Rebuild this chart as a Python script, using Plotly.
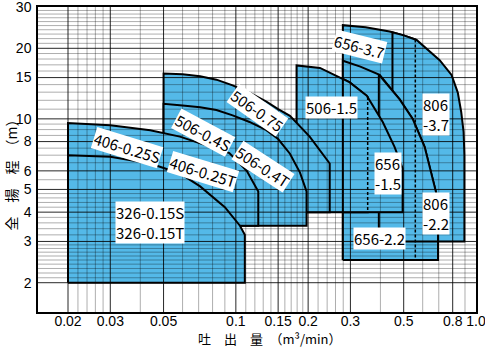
import math
import plotly.graph_objects as go

# ---------------- data: flow Q (m3/min) and head H (m) ----------------
q_326 = [0.02, 0.03, 0.044, 0.0585, 0.071, 0.09, 0.104, 0.109]
h_326 = [7.0, 6.9, 6.45, 5.85, 5.15, 4.2, 3.5, 3.2]
base_326 = 2.0

q_406 = [0.02, 0.03, 0.044, 0.0585, 0.078, 0.094, 0.111, 0.124]
h_406 = [9.6, 9.4, 8.95, 8.4, 7.6, 7.15, 6.0, 4.9]
base_406 = 3.5

q_506_04 = [0.05, 0.06, 0.071, 0.083, 0.097, 0.114, 0.134, 0.15, 0.168, 0.185, 0.197]
h_506_04 = [11.6, 11.4, 11.2, 10.9, 10.35, 9.7, 8.95, 8.2, 7.1, 5.9, 4.9]
base_506_04 = 3.5

q_506_075 = [0.05, 0.06, 0.071, 0.083, 0.097, 0.114, 0.134, 0.15, 0.168, 0.203, 0.246]
h_506_075 = [15.6, 15.5, 15.2, 14.7, 13.9, 12.95, 11.85, 11.0, 10.3, 8.4, 6.45]
base_506_075 = 4.0

q_506_15 = [0.179, 0.224, 0.253, 0.298, 0.354]
h_506_15 = [16.9, 16.5, 15.5, 14.3, 12.4]
base_506_15 = 4.0

q_656_15 = [0.279, 0.298, 0.351, 0.409, 0.458, 0.495]
h_656_15 = [14.8, 14.3, 12.55, 9.7, 7.6, 6.15]
base_656_15 = 4.0

q_656_22 = [0.279, 0.33, 0.397, 0.481, 0.545, 0.611, 0.684, 0.695]
h_656_22 = [17.7, 16.7, 15.4, 12.1, 10.0, 7.6, 4.8, 4.3]
base_656_22 = 2.5

q_806_22 = [0.394, 0.481, 0.545, 0.611, 0.684, 0.695]
h_806_22 = [15.45, 12.1, 10.0, 7.6, 4.8, 4.3]
base_806_22 = 3.0

q_656_37 = [0.279, 0.347, 0.437, 0.5, 0.559]
h_656_37 = [25.1, 24.6, 23.6, 22.7, 21.8]
base_656_37 = 2.5

q_806_37 = [0.449, 0.5, 0.566, 0.706, 0.791, 0.84, 0.868, 0.888, 0.895]
h_806_37 = [23.4, 22.7, 21.7, 17.8, 15.4, 12.95, 10.7, 8.8, 7.0]
base_806_37 = 3.0

x_ticks = [0.02, 0.03, 0.05, 0.1, 0.15, 0.2, 0.3, 0.5, 0.8, 1.0]
x_tick_text = ["0.02", "0.03", "0.05", "0.1", "0.15", "0.2", "0.3", "0.5", "0.8", "1.0"]
y_ticks = [2, 3, 4, 5, 6, 8, 10, 15, 20, 30]
y_tick_text = ["2", "3", "4", "5", "6", "8", "10", "15", "20", "30"]

x_major_grid = [0.02, 0.03, 0.05, 0.1, 0.15, 0.2, 0.3, 0.5, 0.8]
x_minor_grid = [0.022, 0.024, 0.026, 0.028, 0.04, 0.06, 0.07, 0.08, 0.09,
                0.11, 0.12, 0.13, 0.14, 0.16, 0.17, 0.18, 0.19,
                0.22, 0.24, 0.26, 0.28, 0.4, 0.6, 0.7, 0.9]
y_major_grid = [2, 3, 4, 5, 6, 8, 10, 15, 20]
y_minor_grid = [2.1, 2.2, 2.3, 2.4, 2.5, 2.6, 2.7, 2.8, 2.9,
                3.2, 3.4, 3.6, 3.8, 4.2, 4.4, 4.6, 4.8,
                5.5, 6.5, 7, 7.5, 8.5, 9, 9.5,
                11, 12, 13, 14, 16, 17, 18, 19,
                21, 22, 23, 24, 25, 26, 27, 28, 29]

X_RANGE = (0.015, 1.0)
Y_RANGE = (1.5, 30.0)

# draw order: back to front
models = [
    (q_656_37, h_656_37, base_656_37),
    (q_806_37, h_806_37, base_806_37),
    (q_656_22, h_656_22, base_656_22),
    (q_806_22, h_806_22, base_806_22),
    (q_506_15, h_506_15, base_506_15),
    (q_656_15, h_656_15, base_656_15),
    (q_506_075, h_506_075, base_506_075),
    (q_506_04, h_506_04, base_506_04),
    (q_406, h_406, base_406),
    (q_326, h_326, base_326),
]
hidden_edges = [(q_506_15, h_506_15, base_506_15), (q_656_37, h_656_37, base_656_37)]

FILL = "rgb(84,185,232)"

fig = go.Figure()
for q, h, b in models:
    xs = [q[0]] + list(q) + [q[-1], q[0]]
    ys = [b] + list(h) + [b, b]
    fig.add_trace(go.Scatter(x=xs, y=ys, mode="lines", fill="toself",
                             fillcolor=FILL, line=dict(color="black", width=2),
                             hoverinfo="skip", showlegend=False))

def vlines(vals):
    xs, ys = [], []
    for v in vals:
        xs += [v, v, None]
        ys += [Y_RANGE[0], Y_RANGE[1], None]
    return xs, ys

def hlines(vals):
    xs, ys = [], []
    for v in vals:
        xs += [X_RANGE[0], X_RANGE[1], None]
        ys += [v, v, None]
    return xs, ys

for vals, fn, col in [(x_minor_grid, vlines, "rgba(0,0,0,0.32)"),
                      (y_minor_grid, hlines, "rgba(0,0,0,0.32)"),
                      (x_major_grid, vlines, "rgba(0,0,0,0.85)"),
                      (y_major_grid, hlines, "rgba(0,0,0,0.85)")]:
    xs, ys = fn(vals)
    fig.add_trace(go.Scatter(x=xs, y=ys, mode="lines", line=dict(color=col, width=1),
                             hoverinfo="skip", showlegend=False))

for q, h, b in hidden_edges:
    fig.add_trace(go.Scatter(x=[q[-1], q[-1]], y=[h[-1], b], mode="lines",
                             line=dict(color="black", width=1.5, dash="3px,2px"),
                             hoverinfo="skip", showlegend=False))

labels = [
    ("406-0.25S", 0.0351, 7.53, 17, "center"),
    ("406-0.25T", 0.0729, 5.965, 17, "center"),
    ("506-0.4S", 0.0729, 8.71, 28, "center"),
    ("506-0.4T", 0.1295, 6.26, 33, "center"),
    ("506-0.75", 0.1234, 10.88, 35, "center"),
    ("656-3.7", 0.328, 20.43, 14, "center"),
    ("506-1.5", 0.2507, 11.2, 0, "center"),
    ("806<br>-3.7", 0.679, 10.47, 0, "left"),
    ("656<br>-1.5", 0.4287, 5.85, 0, "left"),
    ("806<br>-2.2", 0.679, 3.93, 0, "left"),
    ("656-2.2", 0.397, 3.085, 0, "center"),
    ("326-0.15S<br>326-0.15T", 0.0439, 3.60, 0, "left"),
]
LFONT = dict(family="Noto Sans CJK JP", size=15, color="black")
for text, q, h, ang, al in labels:
    fig.add_annotation(x=math.log10(q), y=math.log10(h), xref="x", yref="y",
                       text=text, showarrow=False, textangle=ang, align=al,
                       bgcolor="white", borderpad=0, font=LFONT)

fig.add_annotation(x=0.53, y=-0.087, xref="paper", yref="paper",
                   text="吐\u3000出\u3000量\u3000（m³/min）", showarrow=False,
                   font=dict(family="Noto Sans CJK JP", size=13, color="black"),
                   xanchor="center", yanchor="middle")
fig.add_annotation(x=-0.062, y=0.46, xref="paper", yref="paper",
                   text="全\u3000揚\u3000程\u3000（m）", showarrow=False, textangle=-90,
                   font=dict(family="Noto Sans CJK JP", size=14, color="black"),
                   xanchor="center", yanchor="middle")

axis_common = dict(type="log", showgrid=False, zeroline=False, showline=True,
                   mirror=True, linecolor="black", linewidth=1.5, ticks="",
                   ticklabeloverflow="allow",
                   tickfont=dict(family="Liberation Sans", size=14, color="black"))
EPS = 1e-4
fig.update_xaxes(range=[math.log10(X_RANGE[0]), math.log10(X_RANGE[1]) + EPS],
                 tickvals=x_ticks, ticktext=x_tick_text, ticklabelstandoff=-5, **axis_common)
fig.update_yaxes(range=[math.log10(Y_RANGE[0]), math.log10(Y_RANGE[1]) + EPS],
                 tickvals=y_ticks, ticktext=y_tick_text, ticklabelstandoff=2, **axis_common)

fig.update_layout(width=485, height=347, margin=dict(l=38, r=9, t=7, b=35, autoexpand=False),
                  paper_bgcolor="white", plot_bgcolor="white", showlegend=False)

fig.write_html("out.html")
